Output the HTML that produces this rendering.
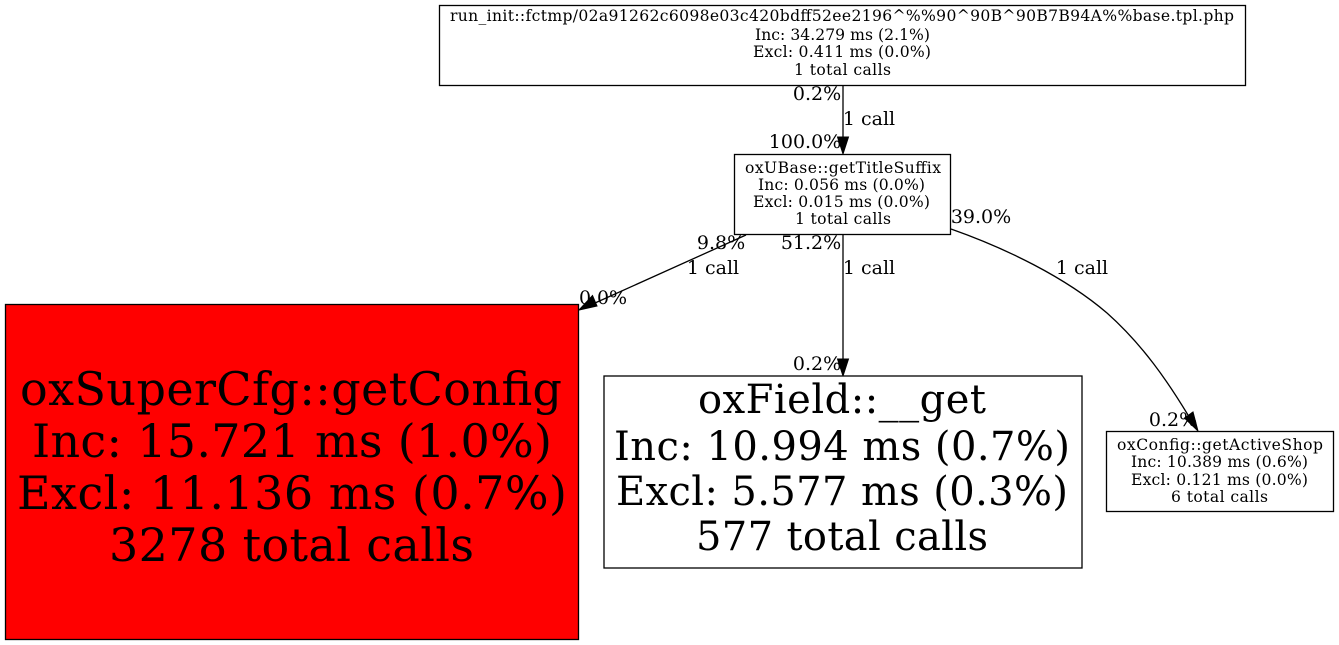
<!DOCTYPE html>
<html>
<head>
<meta charset="utf-8">
<style>
html,body{margin:0;padding:0;background:#fff;width:1339px;height:645px;overflow:hidden}
svg{display:block}
text{font-family:"DejaVu Serif",serif;fill:#000;text-anchor:middle}
.s{font-size:15.6px}
.e{font-size:19px}
.b{font-size:46px}
.f{font-size:40px}
</style>
</head>
<body>
<svg width="1339" height="645" viewBox="0 0 1339 645" xmlns="http://www.w3.org/2000/svg">
<g fill="none" stroke="#000" stroke-width="1.3">
<path d="M843 85V138"/>
<path d="M746 235L595 303"/>
<path d="M843 235V359"/>
<path d="M951 229C1005 248 1065 277 1107 313C1143 345 1168 382 1188 415"/>
</g>
<polygon points="843,154 837.500,137 848.500,137" fill="#000" stroke="#000"/>
<polygon points="579,310 592.500,295.500 597,306" fill="#000" stroke="#000"/>
<polygon points="843,376 837.500,359 848.500,359" fill="#000" stroke="#000"/>
<polygon points="1198,431 1184.500,418 1193,412" fill="#000" stroke="#000"/>

<rect x="439.500" y="5.500" width="806" height="80" fill="#fff" stroke="#000" stroke-width="1.3"/>
<rect x="734.500" y="154.500" width="216" height="80" fill="#fff" stroke="#000" stroke-width="1.3"/>
<rect x="5.500" y="304.500" width="573" height="335" fill="#f00" stroke="#000" stroke-width="1.3"/>
<rect x="604" y="376" width="478" height="192" fill="#fff" stroke="#000" stroke-width="1.3"/>
<rect x="1106.500" y="431.500" width="227" height="80" fill="#fff" stroke="#000" stroke-width="1.3"/>

<g>
<text class="s" x="842" y="21" textLength="784">run_init::fctmp/02a91262c6098e03c420bdff52ee2196^%%90^90B^90B7B94A%%base.tpl.php</text>
<text class="s" x="842.500" y="40" textLength="175">Inc: 34.279 ms (2.1%)</text>
<text class="s" x="842" y="57" textLength="178">Excl: 0.411 ms (0.0%)</text>
<text class="s" x="842.500" y="75" textLength="97">1 total calls</text>

<text class="s" x="843" y="173" textLength="196">oxUBase::getTitleSuffix</text>
<text class="s" x="841.500" y="190" textLength="167">Inc: 0.056 ms (0.0%)</text>
<text class="s" x="841.500" y="207" textLength="177">Excl: 0.015 ms (0.0%)</text>
<text class="s" x="843" y="224" textLength="96">1 total calls</text>

<text class="s" x="1220" y="450" textLength="206">oxConfig::getActiveShop</text>
<text class="s" x="1219.500" y="467" textLength="177">Inc: 10.389 ms (0.6%)</text>
<text class="s" x="1219.500" y="485" textLength="177">Excl: 0.121 ms (0.0%)</text>
<text class="s" x="1219.500" y="502" textLength="97">6 total calls</text>
</g>

<text class="b" x="291" y="405" textLength="542">oxSuperCfg::getConfig</text>
<text class="b" x="292" y="457" textLength="520">Inc: 15.721 ms (1.0%)</text>
<text class="b" x="292" y="509" textLength="550">Excl: 11.136 ms (0.7%)</text>
<text class="b" x="291.500" y="561" textLength="365">3278 total calls</text>

<text class="f" x="842" y="413" textLength="288">oxField::__get</text>
<text class="f" x="842" y="460" textLength="456">Inc: 10.994 ms (0.7%)</text>
<text class="f" x="842" y="505" textLength="452">Excl: 5.577 ms (0.3%)</text>
<text class="f" x="842" y="550" textLength="292">577 total calls</text>

<g>
<text class="e" x="817" y="100">0.2%</text>
<text class="e" x="869" y="125">1 call</text>
<text class="e" x="805" y="148">100.0%</text>
<text class="e" x="721" y="249">9.8%</text>
<text class="e" x="713" y="274">1 call</text>
<text class="e" x="811" y="249">51.2%</text>
<text class="e" x="869" y="274">1 call</text>
<text class="e" x="603" y="304" textLength="48">0.0%</text>
<text class="e" x="817" y="370">0.2%</text>
<text class="e" x="981" y="223">39.0%</text>
<text class="e" x="1082" y="274">1 call</text>
<text class="e" x="1173" y="426">0.2%</text>
</g>
</svg>
</body>
</html>
